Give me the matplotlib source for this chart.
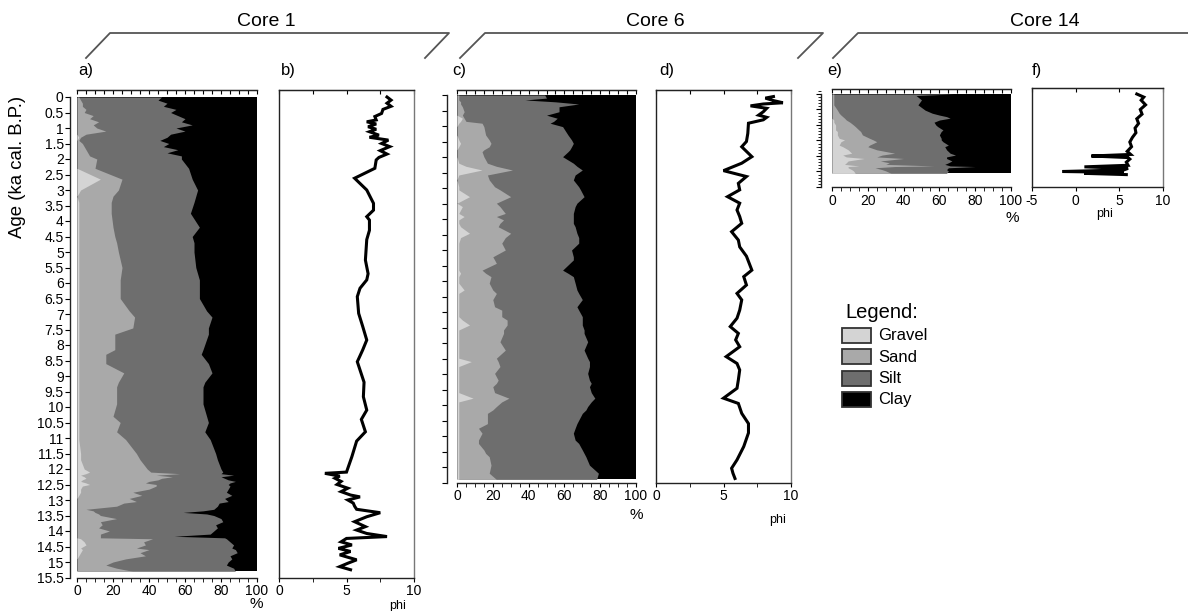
import numpy as np
import matplotlib
matplotlib.use("Agg")
import matplotlib.pyplot as plt
from matplotlib.patches import Rectangle
from matplotlib.lines import Line2D
from matplotlib.ticker import MultipleLocator

plt.rcParams['font.family'] = ['Liberation Sans', 'DejaVu Sans']
plt.rcParams['axes.unicode_minus'] = False

# ---------------- data (percent, ages in ka cal. B.P.) ----------------
# Core 1 grain size composition
age1 = [0, 0.1, 0.2, 0.3, 0.4, 0.5, 0.6, 0.7, 0.8, 0.9,
        1.0, 1.1, 1.2, 1.3, 1.4, 1.5, 1.6, 1.7, 1.8, 1.9,
        2.0, 2.3, 2.65, 3.0, 3.2, 3.4, 3.75, 4.2, 4.5, 4.7,
        5.0, 5.5, 5.9, 6.5, 6.9, 7.1, 7.45, 7.65, 8.15, 8.3,
        8.6, 8.9, 9.2, 9.35, 9.9, 10.3, 10.5, 10.8, 11.05, 11.5,
        11.7, 12.0, 12.1, 12.15, 12.2, 12.25, 12.3, 12.35, 12.4, 12.45,
        12.5, 12.55, 12.65, 12.75, 12.85, 12.95, 13.05, 13.1, 13.2, 13.3,
        13.35, 13.4, 13.45, 13.5, 13.6, 13.7, 13.8, 13.9, 14.0, 14.1,
        14.17, 14.22, 14.25, 14.35, 14.45, 14.55, 14.6, 14.7, 14.8, 14.9,
        15.0, 15.1, 15.2, 15.3]
gravel1 = [0, 0, 0, 0, 0, 0, 0, 0, 0, 0,
           0, 0, 0, 1, 0, 0, 0, 0, 0, 0,
           0, 0, 13, 2, 0, 1, 1, 1, 1, 1,
           1, 1, 1, 1, 1, 1, 1, 1, 1, 1,
           1, 1, 1, 1, 1, 1, 1, 1, 1, 2,
           2, 4, 7, 5, 2, 4, 5, 3, 2, 5,
           7, 3, 2, 2, 1, 0, 0, 0, 0, 0,
           0, 0, 0, 0, 0, 0, 0, 0, 0, 0,
           0, 0, 2, 4, 5, 2, 3, 2, 1, 0,
           0, 0, 0, 0]
sand1 = [1, 2, 3, 3, 5, 4, 9, 7, 12, 9,
         11, 16, 5, 1, 1, 3, 4, 5, 6, 7,
         11, 10, 12, 21, 20, 18, 18, 19, 20, 21,
         22, 24, 23, 23, 28, 31, 30, 20, 20, 15,
         15, 25, 22, 21, 21, 19, 23, 21, 26, 31,
         33, 35, 34, 52, 42, 49, 42, 42, 38, 33,
         37, 41, 38, 29, 35, 29, 33, 26, 22, 5,
         9, 10, 12, 13, 22, 13, 14, 12, 18, 13,
         13, 13, 40, 33, 33, 31, 37, 33, 37, 27,
         20, 16, 22, 31]
silt1 = [46, 43, 47, 45, 50, 48, 47, 53, 46, 55,
         44, 44, 47, 48, 45, 48, 44, 51, 44, 51,
         47, 52, 39, 44, 46, 46, 44, 48, 43, 43,
         42, 41, 44, 44, 43, 43, 42, 52, 49, 53,
         57, 49, 48, 48, 48, 52, 49, 49, 47, 44,
         43, 41, 40, 23, 43, 27, 35, 39, 48, 47,
         40, 41, 44, 52, 50, 53, 51, 53, 56, 71,
         61, 49, 60, 63, 58, 68, 63, 66, 58, 61,
         41, 69, 41, 48, 49, 53, 48, 54, 47, 59,
         64, 67, 65, 57]

# Core 1 mean grain size (phi)
phi1_age = [0.0, 0.1, 0.2, 0.3, 0.4, 0.53, 0.63, 0.74, 0.8, 0.87,
            0.96, 1.04, 1.12, 1.23, 1.3, 1.39, 1.5, 1.6, 1.73, 1.84,
            1.95, 2.03, 2.3, 2.62, 3.0, 3.43, 3.65, 3.86, 3.97, 4.3,
            4.6, 5.26, 5.7, 5.9, 6.17, 6.44, 6.98, 7.4, 7.84, 8.16,
            8.54, 9.2, 9.67, 10.1, 10.4, 10.8, 11.1, 11.6, 12.1, 12.14,
            12.23, 12.3, 12.4, 12.5, 12.62, 12.73, 12.84, 12.9, 13.0, 13.1,
            13.2, 13.3, 13.41, 13.54, 13.7, 13.86, 13.97, 14.08, 14.18, 14.24,
            14.35, 14.45, 14.56, 14.66, 14.77, 14.93, 15.04, 15.15, 15.25]
phi1 = [8.0, 8.3, 8.0, 8.3, 7.7, 7.6, 7.1, 7.2, 6.5, 7.2,
        6.6, 7.2, 6.7, 7.4, 6.7, 8.1, 7.6, 8.2, 7.5, 8.0,
        7.4, 7.2, 7.1, 5.6, 6.5, 7.0, 7.0, 6.5, 6.7, 6.7,
        6.5, 6.4, 6.6, 6.5, 6.0, 5.8, 5.9, 6.2, 6.5, 6.2,
        5.8, 6.3, 6.25, 6.5, 6.1, 6.4, 5.75, 5.4, 5.0, 3.4,
        4.5, 4.15, 4.6, 4.3, 5.1, 4.6, 5.3, 6.0, 5.1, 5.5,
        5.6, 5.75, 7.5, 6.5, 5.6, 6.4, 5.75, 6.5, 8.0, 5.0,
        4.6, 5.4, 4.4, 5.3, 4.5, 5.75, 5.1, 4.5, 5.3]

# Core 6 grain size composition
age6 = [0, 0.1, 0.16, 0.22, 0.29, 0.38, 0.54, 0.65, 0.75, 0.85,
        0.91, 1.02, 1.29, 1.45, 1.56, 1.67, 1.77, 1.83, 1.99, 2.2,
        2.3, 2.42, 2.58, 2.74, 2.96, 3.06, 3.28, 3.49, 3.6, 3.82,
        3.92, 4.03, 4.14, 4.25, 4.46, 4.6, 4.78, 5.0, 5.22, 5.32,
        5.43, 5.65, 5.75, 5.86, 6.07, 6.29, 6.4, 6.6, 6.83, 6.94,
        7.15, 7.26, 7.42, 7.58, 7.69, 7.96, 8.23, 8.49, 8.6, 8.76,
        8.98, 9.2, 9.3, 9.41, 9.6, 9.78, 9.9, 10.05, 10.16, 10.27,
        10.6, 10.75, 10.91, 11.13, 11.24, 11.45, 11.56, 11.67, 11.94, 12.2,
        12.4]
gravel6 = [0, 0, 0, 0, 0, 0, 0, 0, 3, 2,
           1, 0, 0, 1, 2, 1, 0, 0, 0, 1,
           5, 14, 1, 0, 1, 1, 7, 0, 3, 1,
           4, 1, 1, 2, 7, 2, 1, 1, 1, 1,
           1, 1, 2, 1, 1, 4, 1, 1, 1, 1,
           1, 3, 7, 1, 1, 1, 1, 1, 8, 1,
           1, 1, 1, 1, 1, 9, 1, 1, 1, 1,
           1, 1, 1, 1, 1, 1, 1, 1, 1, 1,
           1]
sand6 = [1, 1, 1, 2, 2, 3, 4, 3, 1, 3,
         13, 15, 16, 17, 17, 17, 15, 14, 15, 16,
         17, 17, 16, 18, 20, 23, 23, 22, 21, 26,
         18, 25, 23, 21, 23, 25, 24, 26, 19, 20,
         21, 13, 14, 18, 17, 16, 21, 19, 20, 24,
         24, 25, 21, 25, 25, 23, 26, 21, 15, 23,
         20, 22, 21, 19, 20, 20, 24, 21, 19, 16,
         16, 11, 13, 11, 11, 14, 15, 17, 18, 17,
         21]
silt6 = [48, 49, 37, 53, 66, 54, 53, 47, 52, 49,
         38, 44, 46, 46, 46, 46, 48, 48, 44, 48,
         45, 39, 49, 47, 47, 45, 41, 45, 42, 38,
         43, 39, 41, 43, 37, 41, 43, 37, 45, 44,
         41, 45, 46, 46, 48, 47, 46, 50, 46, 43,
         45, 42, 42, 45, 45, 49, 44, 51, 51, 50,
         52, 51, 53, 54, 54, 48, 50, 51, 52, 53,
         50, 54, 51, 54, 56, 55, 55, 54, 55, 61,
         56]

# Core 6 mean grain size (phi)
phi6_age = [0.05, 0.1, 0.18, 0.25, 0.29, 0.35, 0.43, 0.54, 0.65, 0.72,
            0.8, 0.91, 1.24, 1.5, 1.67, 1.99, 2.2, 2.44, 2.63, 2.85,
            3.06, 3.28, 3.49, 3.71, 3.92, 4.14, 4.41, 4.68, 4.9, 5.2,
            5.65, 5.86, 6.13, 6.4, 6.61, 6.94, 7.2, 7.47, 7.69, 7.9,
            8.12, 8.44, 8.66, 8.87, 9.19, 9.46, 9.78, 9.95, 10.27, 10.6,
            10.9, 11.34, 11.77, 12.04, 12.2, 12.37]
phi6 = [8.7, 8.1, 8.7, 9.4, 7.95, 7.0, 8.2, 7.95, 7.6, 8.2,
        7.95, 6.85, 6.8, 6.7, 6.35, 7.1, 6.35, 5.0, 6.7, 6.1,
        6.2, 5.3, 6.2, 6.0, 6.2, 6.35, 5.6, 6.1, 6.2, 6.7,
        7.1, 6.5, 6.7, 6.0, 6.35, 6.2, 6.0, 5.5, 6.1, 5.9,
        6.2, 5.2, 6.0, 6.2, 6.1, 6.0, 5.0, 6.1, 6.35, 6.85,
        6.85, 6.5, 6.0, 5.6, 5.7, 5.85]

# Core 14 grain size composition
age14 = [0, 0.05, 0.19, 0.35, 0.52, 0.62, 0.68, 0.73, 0.78, 0.84,
         0.91, 1.0, 1.05, 1.16, 1.21, 1.32, 1.43, 1.48, 1.54, 1.65,
         1.7, 1.8, 1.91, 1.97, 2.03, 2.08, 2.16, 2.22, 2.27, 2.32,
         2.34, 2.38, 2.44, 2.48, 2.56]
gravel14 = [0, 0, 0, 0, 0, 0, 0, 0, 0, 1,
            1, 2, 2, 2, 3, 3, 4, 7, 5, 4,
            6, 9, 11, 6, 8, 18, 9, 8, 7, 15,
            9, 9, 11, 12, 13]
sand14 = [1, 1, 1, 1, 3, 4, 5, 6, 7, 7,
          9, 10, 11, 13, 13, 14, 17, 16, 20, 17,
          14, 16, 24, 22, 17, 22, 18, 24, 23, 42,
          26, 15, 17, 18, 20]
silt14 = [67, 46, 49, 47, 49, 52, 55, 58, 59, 52,
          47, 46, 46, 47, 45, 43, 40, 38, 37, 44,
          43, 39, 31, 41, 39, 24, 40, 33, 33, 9,
          45, 41, 36, 35, 31]

# Core 14 mean grain size (phi)
phi14_age = [0.0, 0.1, 0.2, 0.35, 0.5, 0.65, 0.8, 0.95, 1.1, 1.25,
             1.4, 1.55, 1.7, 1.85, 1.95, 2.0, 2.05, 2.1, 2.2, 2.3,
             2.35, 2.4, 2.45, 2.5, 2.53, 2.56, 2.6]
phi14 = [7.0, 7.8, 7.5, 8.0, 7.4, 7.6, 7.0, 7.2, 6.8, 6.9,
         6.5, 6.2, 6.4, 5.9, 6.3, 1.8, 6.0, 6.2, 5.8, 6.0,
         1.0, 6.0, 5.5, -1.5, 5.5, 1.0, 5.8]

C_GRAVEL, C_SAND, C_SILT, C_CLAY = '#d4d4d4', '#a9a9a9', '#6e6e6e', '#000000'

W, H = 1188, 611
PX_PER_KA = 31.0
fig = plt.figure(figsize=(W / 100, H / 100), dpi=100)


def box(x0, x1, y0, y1):
    return [x0 / W, 1 - y1 / H, (x1 - x0) / W, (y1 - y0) / H]


def comp_panel(x0, x1, y_top, y_zero, age_max, age, gravel, sand, silt, offset_px):
    y_bot = y_zero + age_max * PX_PER_KA
    ax = fig.add_axes(box(x0, x1, y_top, y_bot))
    g = np.array(gravel, float)
    gs = g + np.array(sand, float)
    gss = gs + np.array(silt, float)
    # clay is the rest up to 100 %
    ax.fill_betweenx(age, 0, 100, color=C_CLAY, lw=0)
    ax.fill_betweenx(age, 0, gss, color=C_SILT, lw=0)
    ax.fill_betweenx(age, 0, gs, color=C_SAND, lw=0)
    ax.fill_betweenx(age, 0, g, color=C_GRAVEL, lw=0)
    ax.set_xlim(0, 100)
    ax.set_ylim(age_max, -(y_zero - y_top) / PX_PER_KA)
    ax.spines['right'].set_visible(False)
    ax.spines['left'].set_position(('outward', offset_px * 0.72))
    ax.spines['left'].set_bounds(age_max, 0)
    for s in ax.spines.values():
        s.set_color('#222222')
        s.set_linewidth(1.0)
    ax.xaxis.set_major_locator(MultipleLocator(20))
    ax.xaxis.set_minor_locator(MultipleLocator(5))
    ax.tick_params(axis='x', which='both', direction='out', length=3, labelsize=10, pad=2)
    ax.yaxis.set_major_locator(MultipleLocator(0.5))
    ax.tick_params(axis='y', which='major', direction='out', length=3.5, labelsize=10, pad=1)
    top = ax.secondary_xaxis('top')
    top.xaxis.set_major_locator(MultipleLocator(5))
    top.tick_params(direction='in', length=3, labeltop=False)
    top.spines['top'].set_color('#222222')
    return ax


def phi_panel(x0, x1, y_top, y_zero, age_max, age, phi, xmin, ticks, minor):
    y_bot = y_zero + age_max * PX_PER_KA
    ax = fig.add_axes(box(x0, x1, y_top, y_bot))
    ax.plot(phi, age, color='black', lw=2.2, solid_joinstyle='miter')
    ax.set_xlim(xmin, 10)
    ax.set_ylim(age_max, -(y_zero - y_top) / PX_PER_KA)
    ax.set_yticks([])
    ax.set_xticks(ticks)
    ax.set_xticks(minor, minor=True)
    ax.tick_params(axis='x', which='both', direction='out', length=3, labelsize=10, pad=2)
    for s in ax.spines.values():
        s.set_color('#222222')
        s.set_linewidth(1.0)
    ax.spines['right'].set_color('#777777')
    top = ax.secondary_xaxis('top')
    top.set_xticks(sorted(list(ticks) + list(minor)))
    top.tick_params(direction='in', length=3, labeltop=False)
    top.spines['top'].set_color('#444444')
    return ax


# Core 1
ax_a = comp_panel(77, 257, 90, 97, 15.5, age1, gravel1, sand1, silt1, 7)
ax_a.yaxis.set_major_formatter(matplotlib.ticker.FormatStrFormatter('%g'))
phi_panel(279, 414, 90, 97, 15.5, phi1_age, phi1, 0, [0, 5, 10], [2.5, 7.5])

# Core 6
ax_c = comp_panel(457, 636, 90, 95, 12.5, age6, gravel6, sand6, silt6, 10)
ax_c.tick_params(axis='y', labelleft=False)
phi_panel(656, 791, 90, 95, 12.5, phi6_age, phi6, 0, [0, 5, 10], [2.5, 7.5])

# Core 14
ax_e = comp_panel(832, 1011, 89, 94, 3.0, age14, gravel14, sand14, silt14, 11)
ax_e.tick_params(axis='y', labelleft=False)
ax_e.yaxis.set_minor_locator(MultipleLocator(0.1))
ax_e.tick_params(axis='y', which='minor', direction='out', length=2)
phi_panel(1032, 1163, 88, 94, 3.0, phi14_age, phi14, -5, [-5, 0, 5, 10], [])


def ftext(x, y, s, **kw):
    fig.text(x / W, 1 - y / H, s, **kw)


# axis labels
ftext(18, 167, 'Age (ka cal. B.P.)', rotation=90, fontsize=13.4, ha='center', va='center')
ftext(256, 604, '%', fontsize=11, ha='center', va='center')
ftext(636, 515, '%', fontsize=11, ha='center', va='center')
ftext(1012, 218, '%', fontsize=11, ha='center', va='center')
ftext(398, 606, 'phi', fontsize=9, ha='center', va='center')
ftext(778, 520, 'phi', fontsize=9, ha='center', va='center')
ftext(1105, 214, 'phi', fontsize=9, ha='center', va='center')

# panel letters
for x, lab in [(78, 'a)'), (281, 'b)'), (452, 'c)'), (659, 'd)'), (827, 'e)'), (1032, 'f)')]:
    ftext(x, 70, lab, fontsize=12, ha='left', va='center')

# core headers with brackets
for cx, lab in [(266, 'Core 1'), (655, 'Core 6'), (1045, 'Core 14')]:
    ftext(cx, 21, lab, fontsize=14, ha='center', va='center')

brackets = [[(86, 58), (110, 33), (449, 33), (425, 58)],
            [(460, 58), (485, 33), (823, 33), (798, 58)],
            [(833, 58), (858, 33), (1188, 33)]]
for pts in brackets:
    xs = [p[0] / W for p in pts]
    ys = [1 - p[1] / H for p in pts]
    fig.add_artist(Line2D(xs, ys, transform=fig.transFigure, color='#555555', lw=1.3))

# legend
ftext(845, 313, 'Legend:', fontsize=14.5, ha='left', va='center')
for i, (lab, col) in enumerate([('Gravel', C_GRAVEL), ('Sand', C_SAND),
                                 ('Silt', C_SILT), ('Clay', C_CLAY)]):
    y0 = 328 + i * 21.3
    fig.add_artist(Rectangle((842 / W, 1 - (y0 + 15) / H), 29 / W, 15 / H,
                             transform=fig.transFigure, facecolor=col,
                             edgecolor='#333333', lw=1.3))
    ftext(878, y0 + 8, lab, fontsize=12, ha='left', va='center')

fig.savefig('out.png', dpi=100)
